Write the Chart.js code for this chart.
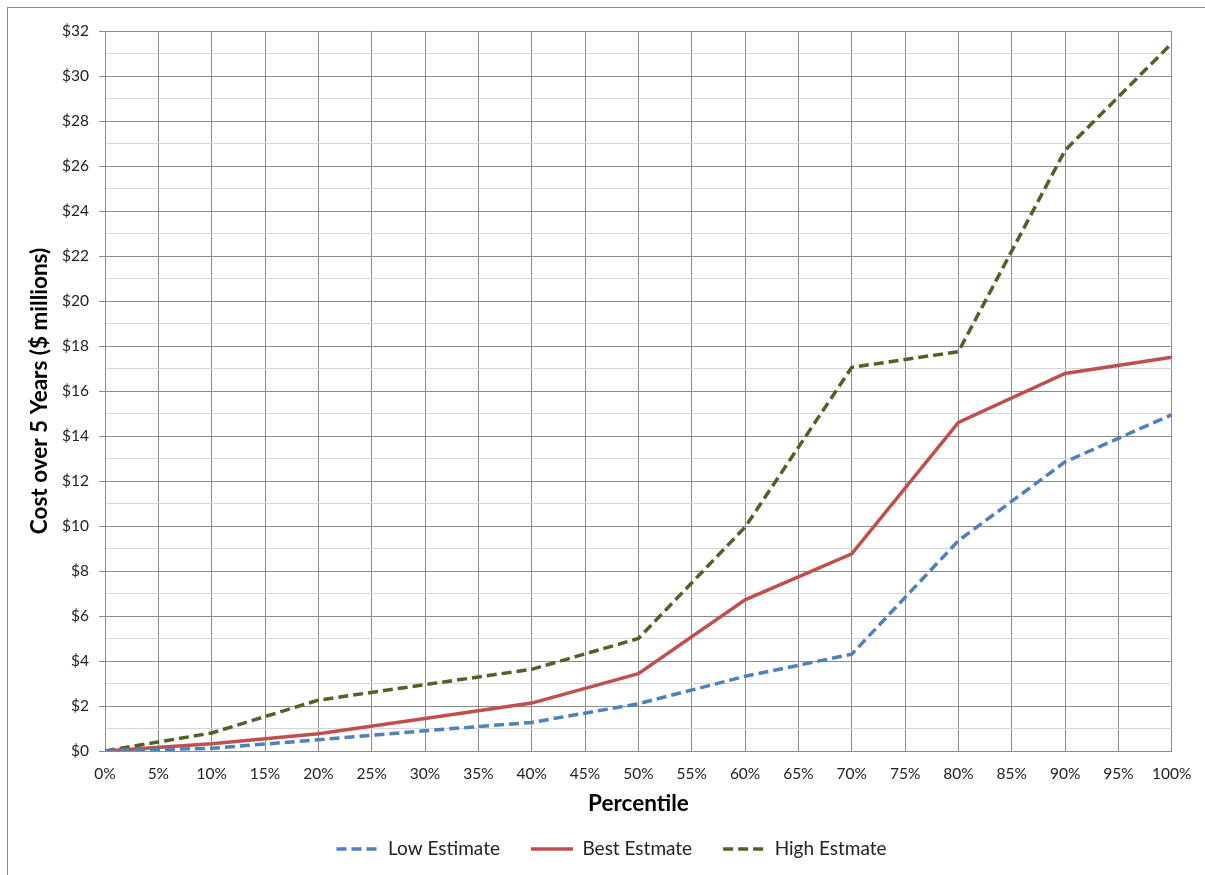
<!DOCTYPE html>
<html>
<head>
<meta charset="utf-8">
<script src="https://cdn.jsdelivr.net/npm/chart.js@4/dist/chart.umd.min.js"></script>
<style>
  html, body { margin: 0; padding: 0; background: #ffffff; }
  #wrap { width: 1205px; height: 875px; position: relative; }
</style>
</head>
<body>
<div id="wrap"><canvas id="chart" width="1205" height="875"></canvas></div>
<script>
// Percentile points (x) and cost over 5 years in $ millions (y)
const percentiles = [0, 10, 20, 30, 40, 50, 60, 70, 80, 90, 100];
const lowEstimate  = [0, 0.12, 0.5, 0.9, 1.27, 2.1, 3.32, 4.3, 9.35, 12.85, 14.95];
const bestEstimate = [0, 0.32, 0.77, 1.44, 2.13, 3.44, 6.72, 8.76, 14.6, 16.78, 17.5];
const highEstimate = [0, 0.8, 2.26, 2.95, 3.63, 5.0, 9.95, 17.05, 17.75, 26.7, 31.45];
const seriesNames = ['Low Estimate', 'Best Estmate', 'High Estmate'];
const xTitle = 'Percentile';
const yTitle = 'Cost over 5 Years ($ millions)';

const FONT = 'Lato, "Open Sans", "DejaVu Sans", sans-serif';
const MAJOR = '#8c8c8c';
const MINOR = '#d6d6d6';
const LINE_W = 3.5;

const toPoints = vals => percentiles.map((p, i) => ({ x: p, y: vals[i] }));

// thin grey frame around the whole chart
const frame = {
  id: 'frame',
  beforeDraw(chart) {
    const ctx = chart.ctx;
    ctx.save();
    ctx.strokeStyle = '#8a8a8a';
    ctx.lineWidth = 1;
    ctx.strokeRect(7.5, 7.5, 1300, 1000);
    ctx.restore();
  }
};

// centre the legend under the plot area rather than the canvas
const legendShift = {
  id: 'legendShift',
  afterLayout(chart) {
    const lg = chart.legend;
    if (lg) { lg.left += 25; lg.right += 25; }
  }
};

new Chart(document.getElementById('chart'), {
  type: 'line',
  data: {
    datasets: [
      { label: seriesNames[0], data: toPoints(lowEstimate), borderColor: '#4f81bd', backgroundColor: '#4f81bd',
        borderWidth: LINE_W, borderDash: [10, 5], pointRadius: 0, tension: 0 },
      { label: seriesNames[1], data: toPoints(bestEstimate), borderColor: '#c0504d', backgroundColor: '#c0504d',
        borderWidth: LINE_W, pointRadius: 0, tension: 0 },
      { label: seriesNames[2], data: toPoints(highEstimate), borderColor: '#4f6228', backgroundColor: '#4f6228',
        borderWidth: LINE_W, borderDash: [10, 5], pointRadius: 0, tension: 0 }
    ]
  },
  options: {
    responsive: false,
    animation: false,
    layout: { padding: { left: 0, right: 32, top: 31, bottom: 6.5 } },
    plugins: {
      tooltip: { enabled: false },
      legend: {
        position: 'bottom',
        labels: {
          usePointStyle: true,
          pointStyle: 'line',
          pointStyleWidth: 42,
          padding: 31,
          color: '#222',
          font: { family: FONT, size: 19 },
          generateLabels(chart) {
            const items = Chart.defaults.plugins.legend.labels.generateLabels(chart);
            items.forEach(it => {
              const ds = chart.data.datasets[it.datasetIndex];
              it.pointStyle = 'line';
              it.lineDash = ds.borderDash || [];
              it.lineWidth = LINE_W;
              it.strokeStyle = ds.borderColor;
              it.fillStyle = ds.borderColor;
            });
            return items;
          }
        }
      }
    },
    scales: {
      x: {
        type: 'linear',
        min: 0, max: 100,
        afterFit(s) { s.height = 57.5; },
        border: { color: MAJOR, width: 1 },
        grid: { color: MAJOR, drawTicks: false },
        ticks: {
          stepSize: 5, autoSkip: false, maxRotation: 0, padding: 13.5,
          color: '#222', font: { family: FONT, size: 15.5 },
          callback: v => v + '%'
        },
        title: {
          display: true, text: xTitle, color: '#000',
          font: { family: FONT, size: 22.5, weight: 'bold' },
          padding: { top: 0, bottom: -9 }
        }
      },
      y: {
        type: 'linear',
        min: 0, max: 32,
        afterFit(s) { s.width = 105; },
        border: { color: MAJOR, width: 1 },
        grid: {
          color: c => (c.tick && c.tick.value % 2 === 0) ? MAJOR : MINOR,
          tickColor: c => (c.tick && c.tick.value % 2 === 0) ? MAJOR : 'rgba(0,0,0,0)',
          tickLength: 6
        },
        ticks: {
          stepSize: 1, autoSkip: false, padding: 10,
          color: '#222', font: { family: FONT, size: 15.5 },
          callback: v => (v % 2 === 0 ? '$' + v : '')
        },
        title: {
          display: true, text: yTitle, color: '#000',
          font: { family: FONT, size: 22.5, weight: 'bold' },
          padding: { top: 26.5, bottom: 0 }
        }
      }
    }
  },
  plugins: [frame, legendShift]
});
</script>
</body>
</html>
